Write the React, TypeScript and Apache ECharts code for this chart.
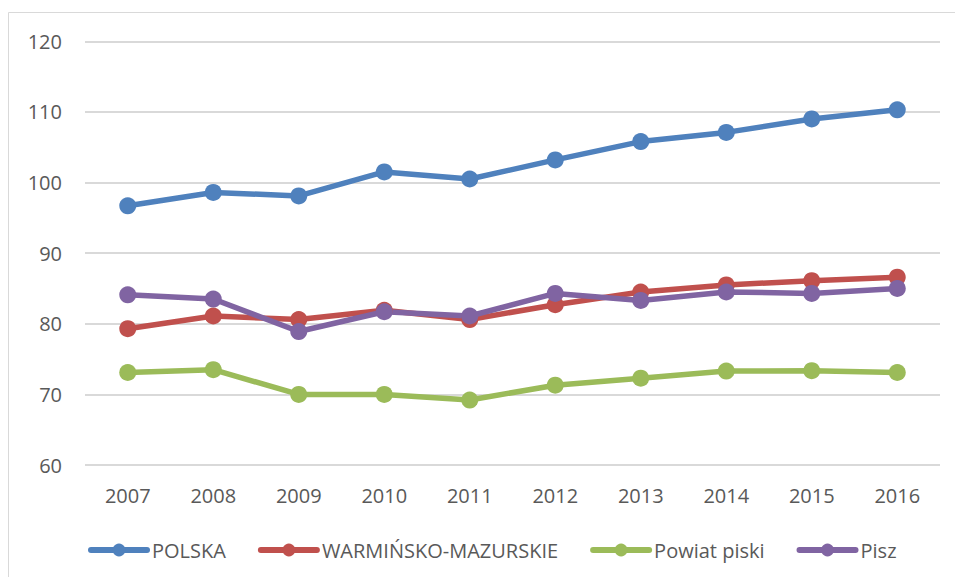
import React, { useEffect, useRef } from "react";
import * as echarts from "echarts";

const years = ["2007", "2008", "2009", "2010", "2011", "2012", "2013", "2014", "2015", "2016"];
const polska = [96.7, 98.6, 98.1, 101.5, 100.5, 103.2, 105.8, 107.1, 109.0, 110.3];
const warminsko = [79.3, 81.1, 80.6, 81.9, 80.6, 82.7, 84.5, 85.5, 86.1, 86.6];
const powiatPiski = [73.1, 73.5, 70.0, 70.0, 69.2, 71.3, 72.3, 73.3, 73.35, 73.1];
const pisz = [84.1, 83.5, 78.9, 81.7, 81.1, 84.3, 83.3, 84.5, 84.3, 85.0];

const seriesNames = ["POLSKA", "WARMIŃSKO-MAZURSKIE", "Powiat piski", "Pisz"];
const seriesData = [polska, warminsko, powiatPiski, pisz];
const colors = ["#4F81BD", "#C0504D", "#9BBB59", "#8064A2"];

export default function App() {
  const ref = useRef<HTMLDivElement>(null);
  useEffect(() => {
    if (!ref.current) return;
    const chart = echarts.init(ref.current, null, { renderer: "svg" });
    const font = "'Open Sans', sans-serif";
    chart.setOption({
      animation: false,
      color: colors,
      textStyle: { fontFamily: font },
      graphic: [
        {
          type: "rect",
          shape: { x: 8.5, y: 12.5, width: 1000, height: 1000 },
          style: { fill: "none", stroke: "#d9d9d9", lineWidth: 1 },
          silent: true,
        },
      ],
      grid: { left: 85, right: 15, top: 41.3, bottom: 112, containLabel: false },
      legend: {
        left: 83,
        top: 535,
        padding: 5,
        itemWidth: 56,
        itemHeight: 16,
        itemGap: 32,
        lineStyle: { width: 6, cap: "round" },
        textStyle: { fontFamily: font, fontSize: 20, color: "#595959" },
        data: seriesNames,
      },
      xAxis: {
        type: "category",
        data: years,
        boundaryGap: true,
        axisLine: { show: false },
        axisTick: { show: false },
        axisLabel: { fontFamily: font, fontSize: 20, color: "#595959", margin: 20 },
      },
      yAxis: {
        type: "value",
        min: 60,
        max: 120,
        interval: 10,
        axisLine: { show: false },
        axisTick: { show: false },
        axisLabel: { fontFamily: font, fontSize: 20, color: "#595959", margin: 23 },
        splitLine: { lineStyle: { color: "#d9d9d9", width: 2 } },
      },
      series: seriesNames.map((name, i) => ({
        name,
        type: "line",
        data: seriesData[i],
        symbol: "circle",
        symbolSize: 17,
        lineStyle: { width: 5.5, color: colors[i], cap: "round", join: "round" },
        itemStyle: { color: colors[i] },
      })),
    });
    return () => chart.dispose();
  }, []);
  return (
    <div
      ref={ref}
      style={{ position: "absolute", left: 0, top: 0, width: 955, height: 577 }}
    />
  );
}
